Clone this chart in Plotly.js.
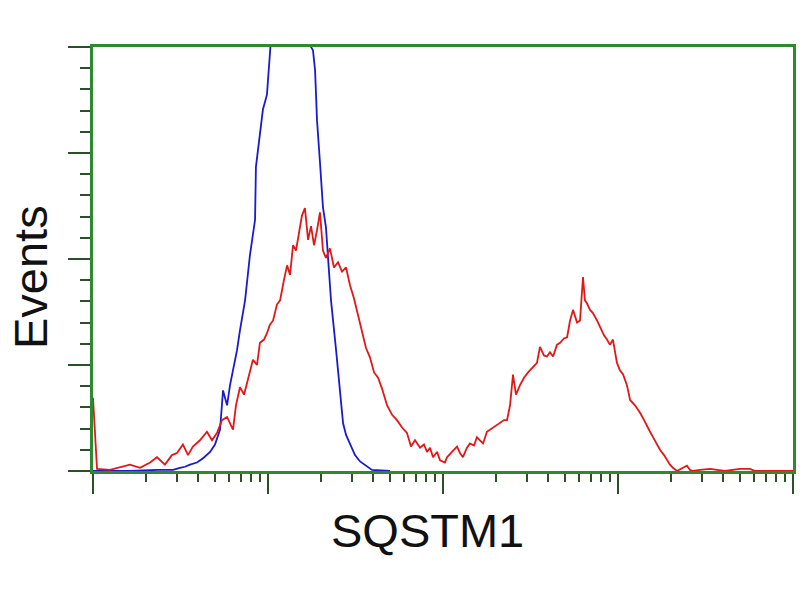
<!DOCTYPE html>
<html>
<head>
<meta charset="utf-8">
<script src="https://cdn.plot.ly/plotly-3.0.1.min.js"></script>
<style>html,body{margin:0;padding:0;background:#fff;}#chart{width:800px;height:600px;}</style>
</head>
<body>
<div id="chart"></div>
<script>
// Fluorescence position in log decades (0..4) and event counts
const blueDecade = [0.000,0.211,0.366,0.457,0.497,0.526,0.554,0.594,0.629,0.669,0.697,0.726,0.743,0.766,0.783,0.800,0.823,0.840,0.869,0.897,0.926,0.931,0.954,0.971,0.994,1.011,1.040,1.126,1.211,1.246,1.257,1.269,1.280,1.297,1.314,1.331,1.343,1.360,1.389,1.411,1.429,1.446,1.469,1.497,1.526,1.566,1.594,1.697];
const blueCount  = [0,0,1,1,3,4,6,8,12,18,25,39,76,62,81,95,114,133,161,204,237,287,315,341,355,397,460,520,480,400,397,378,331,291,249,230,199,161,114,76,45,34,26,15,9,4,1,0];

const redDecade = [0.000,0.011,0.023,0.097,0.211,0.269,0.326,0.366,0.411,0.451,0.480,0.514,0.543,0.571,0.611,0.651,0.680,0.709,0.737,0.766,0.800,0.817,0.840,0.863,0.880,0.897,0.914,0.937,0.954,0.977,0.994,1.011,1.029,1.051,1.069,1.091,1.109,1.126,1.143,1.160,1.177,1.194,1.211,1.229,1.246,1.263,1.280,1.297,1.314,1.331,1.354,1.377,1.400,1.423,1.446,1.469,1.491,1.514,1.537,1.560,1.583,1.606,1.629,1.651,1.680,1.709,1.737,1.766,1.794,1.817,1.840,1.869,1.891,1.909,1.926,1.943,1.966,1.983,2.011,2.023,2.051,2.080,2.097,2.114,2.137,2.154,2.177,2.194,2.211,2.229,2.251,2.269,2.297,2.326,2.349,2.366,2.383,2.400,2.417,2.440,2.463,2.486,2.509,2.537,2.554,2.577,2.594,2.611,2.629,2.651,2.669,2.691,2.709,2.726,2.743,2.766,2.783,2.800,2.811,2.823,2.840,2.857,2.880,2.897,2.920,2.937,2.954,2.971,2.994,3.011,3.029,3.051,3.069,3.097,3.126,3.149,3.166,3.183,3.200,3.223,3.240,3.263,3.280,3.297,3.314,3.337,3.371,3.394,3.411,3.429,3.469,3.526,3.566,3.611,3.697,3.754,3.783,4.000];
const redCount  = [69,34,2,1,6,3,8,13,6,15,17,25,15,23,29,37,29,36,48,51,39,62,79,72,83,95,105,100,121,124,130,138,142,157,161,180,194,185,213,208,223,241,248,218,231,213,227,244,208,201,210,192,197,188,192,175,163,147,133,116,107,93,88,78,62,53,48,41,36,23,29,22,25,18,22,13,18,10,8,13,18,23,17,13,22,26,24,32,29,26,37,39,42,45,48,48,62,91,72,81,88,93,97,102,117,109,108,112,108,119,121,125,126,142,152,140,142,183,161,158,152,149,142,136,128,124,119,124,102,95,91,81,67,62,55,48,42,37,32,25,20,15,10,6,3,0,3,5,1,0,1,2,1,0,2,2,0,0];

const xTitle = 'SQSTM1';
const yTitle = 'Events';
const majorX = [0,1,2,3,4];
const minorDigits = [2,3,4,5,6,7,8,9];

const minorX = [];
for (let k = 0; k < 4; k++) for (const m of minorDigits) minorX.push(k + Math.log10(m));

const green = '#2f8a2f';
const tickCol = '#2a4f2a';
const font = 'Liberation Sans, Arial, sans-serif';

const traces = [
  {x: blueDecade, y: blueCount, type: 'scatter', mode: 'lines', line: {color: '#1a1ad0', width: 1.8}, hoverinfo: 'skip'},
  {x: redDecade, y: redCount, type: 'scatter', mode: 'lines', line: {color: '#e01818', width: 1.8}, hoverinfo: 'skip'}
];

const layout = {
  width: 800, height: 600,
  margin: {l: 93, r: 7, t: 47, b: 129},
  paper_bgcolor: '#ffffff', plot_bgcolor: '#ffffff',
  showlegend: false,
  xaxis: {
    range: [0, 4], tickmode: 'array', tickvals: majorX, showticklabels: false,
    ticks: 'outside', ticklen: 20, tickwidth: 2, tickcolor: tickCol,
    minor: {tickmode: 'array', tickvals: minorX, ticks: 'outside', ticklen: 8, tickwidth: 2, tickcolor: tickCol, showgrid: false},
    showline: true, linecolor: green, linewidth: 3, mirror: true, showgrid: false, zeroline: false
  },
  yaxis: {
    range: [0, 400], tickmode: 'linear', tick0: 0, dtick: 100, showticklabels: false,
    ticks: 'outside', ticklen: 22, tickwidth: 2, tickcolor: tickCol,
    minor: {dtick: 20, ticks: 'outside', ticklen: 10, tickwidth: 2, tickcolor: tickCol, showgrid: false},
    showline: true, linecolor: green, linewidth: 3, mirror: true, showgrid: false, zeroline: false
  },
  annotations: [
    {text: xTitle, xref: 'paper', yref: 'paper', x: 0.478, y: -0.1403, xanchor: 'center', yanchor: 'middle',
     showarrow: false, font: {family: font, size: 47, color: '#111'}},
    {text: yTitle, xref: 'paper', yref: 'paper', x: -0.09, y: 0.4575, xanchor: 'center', yanchor: 'middle',
     textangle: -90, showarrow: false, font: {family: font, size: 47, color: '#111'}}
  ]
};

Plotly.newPlot('chart', traces, layout, {staticPlot: true, displayModeBar: false});
</script>
</body>
</html>
